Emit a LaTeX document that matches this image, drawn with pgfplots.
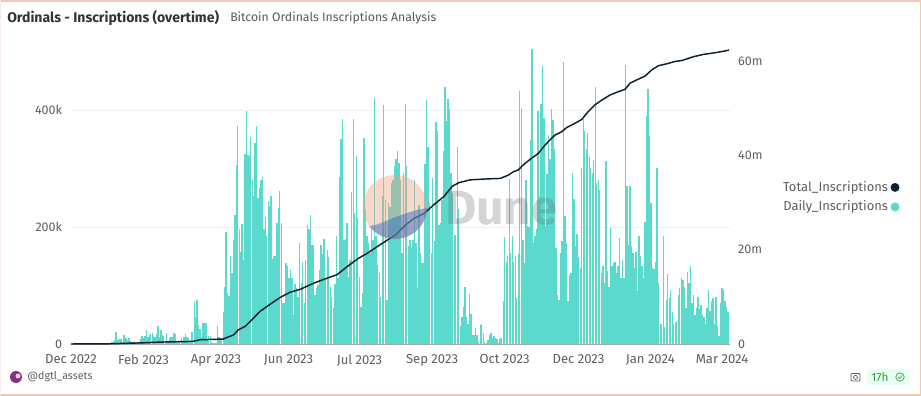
\documentclass[border=0pt]{standalone}
\usepackage{pgfplots}
\pgfplotsset{compat=1.18}
\usepackage{fontspec}
\setmainfont{Fira Sans}
\usetikzlibrary{calc}
\definecolor{teal1}{HTML}{5CD9CD}
\definecolor{navy1}{HTML}{0B2030}
\definecolor{tickgray}{HTML}{5F5F5F}
\definecolor{gridc}{HTML}{EEF0F2}
\definecolor{edgec}{HTML}{EFC9B4}
\definecolor{logoblue}{HTML}{3A6FB8}
\definecolor{logosalmon}{HTML}{F2A184}
\begin{document}
\begin{tikzpicture}[x=0.75pt,y=0.75pt]
\path[use as bounding box] (0,0) rectangle (921,396);
\fill[white] (0,0) rectangle (921,396);
\fill[edgec] (0,394) rectangle (921,396);
\fill[edgec] (0,0) rectangle (921,1.5);
\fill[edgec] (919.5,0) rectangle (921,396);
\fill[edgec!35] (0,0) rectangle (1.2,396);
\coordinate (O) at (71,52);
\begin{axis}[
  at={(O)}, anchor=origin, scale only axis,
  width=494.25pt, height=222.75pt,
  xmin=0, xmax=454.5, ymin=0, ymax=507.7,
  axis y line=left, axis x line=bottom,
  x axis line style={draw=gray!70, line width=0.4pt, -},
  y axis line style={draw=none, -},
  xtick={0,50,100,150,199,249,299,350,399.5,449},
  xticklabels={Dec 2022,Feb 2023,Apr 2023,Jun 2023,Jul 2023,Sep 2023,Oct 2023,Dec 2023,Jan 2024,Mar 2024},
  ytick={0,200,400}, yticklabels={0,200k,400k},
  tick style={draw=none},
  ymajorgrids, grid style={gridc, line width=0.6pt},
  xticklabel style={font=\fontsize{9.8}{11}\selectfont, text=tickgray, yshift=-2pt},
  yticklabel style={font=\fontsize{9.4}{11}\selectfont, text=tickgray, xshift=-1pt},
  clip=false,
]
\addplot[ycomb, teal1, line width=1.02pt, forget plot] table[x expr=\coordindex+27, y index=0, row sep=\\, header=false] {
2\\3\\4\\6\\20\\7\\8\\9\\9\\16\\16\\10\\7\\11\\5\\4\\3\\5\\2\\3\\3\\8\\13\\11\\14\\24\\12\\16\\17\\18\\15\\12\\17\\30\\12\\24\\16\\14\\4\\19\\4\\10\\12\\12\\18\\17\\5\\3\\5\\11\\4\\12\\17\\12\\10\\3\\20\\20\\71\\47\\75\\32\\26\\12\\36\\36\\36\\6\\14\\14\\3\\1\\1\\2\\30\\12\\10\\8\\54\\98\\192\\87\\82\\150\\121\\177\\221\\306\\372\\196\\158\\205\\143\\324\\399\\323\\321\\353\\280\\253\\344\\373\\250\\267\\281\\286\\196\\217\\184\\245\\236\\253\\145\\150\\151\\206\\232\\
};
\addplot[ycomb, teal1, line width=1.02pt, forget plot] table[x expr=\coordindex*1.055+144, y index=0, row sep=\\, header=false] {
261\\206\\70\\70\\138\\133\\113\\127\\113\\50\\102\\96\\81\\173\\105\\141\\70\\144\\204\\196\\221\\170\\170\\84\\96\\101\\127\\169\\153\\180\\113\\160\\149\\98\\81\\61\\103\\184\\113\\286\\350\\384\\178\\180\\207\\115\\144\\260\\384\\224\\322\\215\\115\\64\\87\\352\\230\\184\\173\\155\\198\\178\\421\\184\\135\\121\\81\\253\\408\\247\\75\\241\\235\\275\\281\\304\\316\\330\\310\\281\\155\\293\\410\\305\\167\\178\\164\\178\\280\\173\\96\\238\\155\\138\\138\\307\\417\\336\\241\\155\\284\\176\\380\\364\\204\\207\\247\\330\\439\\381\\419\\402\\293\\258\\187\\187\\336\\230\\30\\47\\64\\98\\47\\35\\85\\51\\15\\15\\27\\15\\4\\33\\35\\18\\4\\2\\7\\15\\19\\10\\13\\11\\9\\2\\9\\11\\
};
\addplot[ycomb, teal1, line width=1.02pt, forget plot] table[x expr=\coordindex*1.041+296, y index=0, row sep=\\, header=false] {
11\\11\\73\\183\\141\\150\\282\\155\\185\\141\\150\\78\\153\\432\\403\\177\\138\\281\\201\\200\\348\\504\\173\\184\\196\\399\\253\\410\\475\\387\\201\\290\\357\\316\\402\\383\\333\\164\\84\\75\\155\\176\\482\\218\\172\\73\\118\\121\\293\\248\\167\\188\\149\\130\\301\\384\\364\\333\\361\\319\\301\\293\\315\\439\\276\\281\\264\\121\\133\\104\\313\\124\\98\\198\\133\\138\\141\\121\\133\\181\\113\\144\\113\\477\\270\\170\\270\\168\\155\\130\\158\\90\\184\\150\\133\\113\\208\\390\\436\\356\\241\\130\\128\\141\\300\\104\\35\\34\\184\\29\\76\\120\\78\\93\\55\\34\\38\\37\\84\\96\\113\\110\\97\\61\\123\\104\\134\\70\\84\\50\\61\\80\\59\\66\\50\\46\\34\\61\\93\\57\\73\\78\\35\\81\\31\\13\\70\\96\\93\\73\\64\\55\\
};
\end{axis}
\begin{axis}[
  at={(O)}, anchor=origin, scale only axis,
  width=494.25pt, height=222.75pt,
  xmin=0, xmax=454.5, ymin=0, ymax=62.97,
  axis y line=right, axis x line=none,
  y axis line style={draw=none, -},
  ytick={0,20,40,60}, yticklabels={0,20m,40m,60m},
  tick style={draw=none},
  yticklabel style={font=\fontsize{9.4}{11}\selectfont, text=tickgray, xshift=0.5pt},
  clip=false,
  legend plot pos=right,
  legend cell align=right,
  legend style={at={(1.2575,0.5575)}, anchor=north east, draw=none, fill=none,
    font=\fontsize{9.7}{11}\selectfont, text=tickgray, row sep=1.6pt, inner sep=0pt},
]
\addplot[navy1, line width=1.1pt, line join=round, forget plot] coordinates {
(0,0)(27,0.05)(50,0.25)(61,0.4)(84,0.55)(89,0.9)(105,1.05)(108.5,1.5)(112,1.9)(115.4,3)(120,3.7)(124.6,5.1)(130.3,6.9)(137.2,8.4)(144.4,9.9)(151.3,11)(158.2,11.6)(167.4,12.9)(174.3,13.7)(183.5,14.7)(190.4,16.4)(198.4,18.2)(204.2,19.2)(211,20.6)(218,22)(223.7,23.1)(230.6,25.2)(236.4,26.6)(243.7,27.7)(250.1,29.5)(257,31.2)(262.8,33.4)(267.4,34.2)(275.4,34.8)(286.9,35)(296,35.1)(301.6,35.8)(305,36.5)(308.5,36.9)(312,38)(317.7,39.4)(322.3,40.4)(327,42.2)(330.4,43.3)(333.8,44.3)(338.4,45)(341.9,45.9)(346.5,46.6)(352.2,47.6)(356.8,49.3)(361.4,50.7)(366,51.7)(371.8,52.8)(377.5,53.5)(382.1,54)(385.6,55.3)(390.2,56)(395.9,56.8)(400.5,58.1)(405.1,59)(410.8,59.4)(416.6,59.9)(421.2,60.1)(429.2,60.9)(436.1,61.4)(445.3,61.8)(453.8,62.3)
};
\addlegendimage{legend image code/.code={\fill[navy1] (0.12cm,0) circle (3.1pt);}}
\addlegendentry{Total\_Inscriptions}
\addlegendimage{legend image code/.code={\fill[teal1] (0.12cm,0) circle (3.1pt);}}
\addlegendentry{Daily\_Inscriptions}
\end{axis}
% watermark
\begin{scope}
\clip (395,189) circle (32);
\fill[logosalmon, opacity=0.42] (350,150) rectangle (440,230);
\fill[logoblue, opacity=0.5] (360,170) -- (370,170) .. controls (385,172) and (395,182) .. (427,188) -- (440,150) -- (360,150) -- cycle;
\end{scope}
\node[anchor=west, text=black!60, opacity=0.27, inner sep=0pt, font=\fontsize{36}{40}\selectfont\bfseries] at (445,188) {Dune};
% titles
\node[anchor=west, inner sep=0pt, text=black!80, font=\fontsize{10.5}{12}\selectfont\bfseries] at (7,378) {Ordinals - Inscriptions (overtime)};
\node[anchor=west, inner sep=0pt, text=black!65, font=\fontsize{9.2}{12}\selectfont] at (230,378) {Bitcoin Ordinals Inscriptions Analysis};
% footer
\fill[violet!60!gray] (16,19) circle (6);
\fill[white!80!red] (18,20) circle (2.5);
\node[anchor=west, inner sep=0pt, text=tickgray, font=\fontsize{8}{10}\selectfont] at (27,19) {@dgtl\_assets};
\draw[black!65, line width=0.6pt, rounded corners=0.8] (851,15) rectangle (860,22.5);
\draw[black!65, line width=0.5pt] (855.5,18.6) circle (2);
\fill[green!45!cyan!10, rounded corners=3] (867,11) rectangle (910,27);
\node[anchor=west, inner sep=0pt, text=green!45!black!75, font=\fontsize{8.8}{10}\selectfont] at (871,19) {17h};
\draw[green!45!black!65, line width=0.6pt] (900,19) circle (4.2);
\draw[green!45!black!65, line width=0.6pt] (898,19) -- (899.5,17.5) -- (902,20.5);
\end{tikzpicture}
\end{document}
